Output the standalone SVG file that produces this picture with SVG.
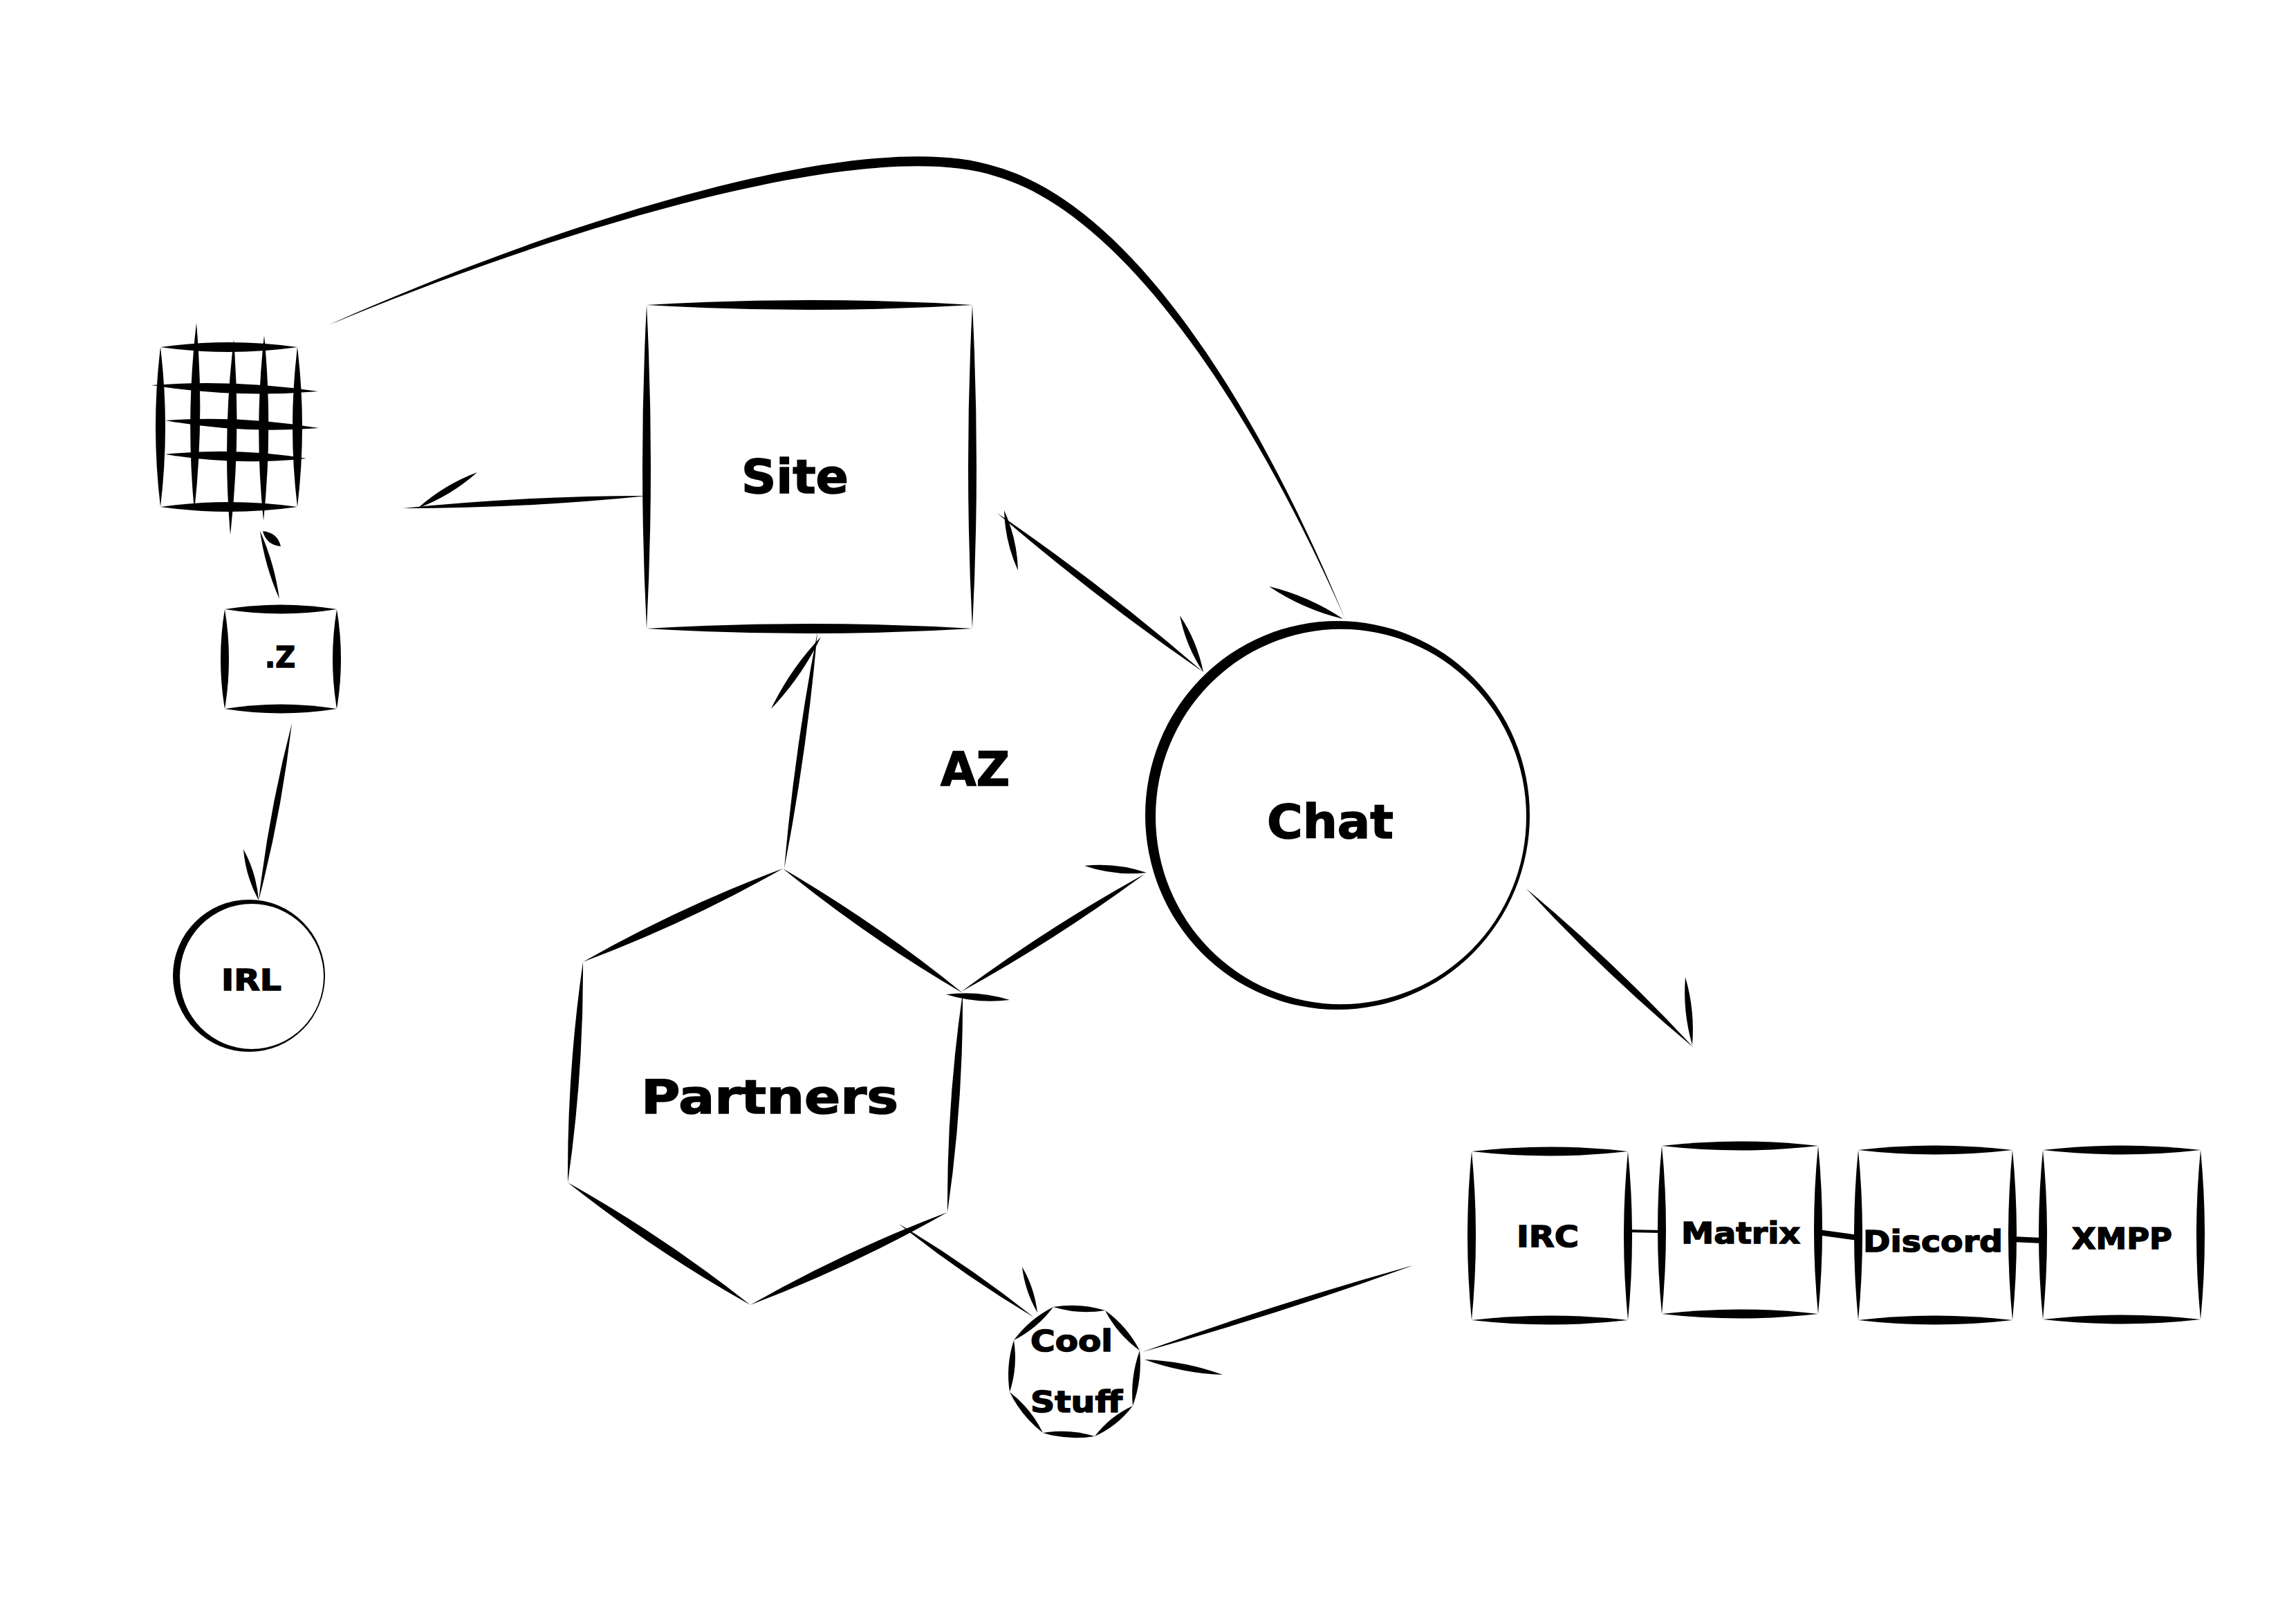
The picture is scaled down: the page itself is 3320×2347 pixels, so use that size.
<svg xmlns="http://www.w3.org/2000/svg" width="3320" height="2347" viewBox="0 0 3320 2347">
<style>
.ink{fill:#000;stroke:none}
.ring{fill:#000;fill-rule:evenodd;stroke:none}
.link{stroke:#000;fill:none}
.lbl{font-family:"DejaVu Sans","Liberation Sans",sans-serif;font-weight:bold;fill:#000;stroke:#000;stroke-width:1.5}
.big{font-size:68px}
.sm{font-size:43px}
</style>
<rect x="0" y="0" width="3320" height="2347" fill="#fff"/>

<g id="connectors">
  <!-- Site -> grid -->
  <path class="ink" d="M936 717 Q759 717 583 735 Q760 735 936 717Z"/>
  <path class="ink" d="M604 735 Q652 717 690 683 Q642 701 604 735Z"/>
  <!-- .Z -> grid -->
  <path class="ink" d="M404 866 Q397 815 376 768 Q383 819 404 866Z"/>
  <path class="ink" d="M380 768 Q385 788 406 790 Q401 770 380 768Z"/>
  <!-- .Z -> IRL -->
  <path class="ink" d="M422 1046 Q389 1173 374 1302 Q407 1176 422 1046Z"/>
  <path class="ink" d="M352 1228 Q355 1267 374 1302 Q371 1263 352 1228Z"/>
  <!-- grid -> Chat (curve) -->
  <path class="ink" d="M475 470 C800 324 1250 179 1440 241 C1625 293 1805 557 1945 895 C1798 563 1615 305 1440 255 C1250 194 800 335 475 470Z"/>
  <path class="ink" d="M1835 848 Q1884 881 1942 895 Q1893 862 1835 848Z"/>
  <!-- Site <-> Chat -->
  <path class="ink" d="M1442 742 Q1585 865 1740 972 Q1598 849 1442 742Z"/>
  <path class="ink" d="M1452 738 Q1453 783 1472 825 Q1471 780 1452 738Z"/>
  <path class="ink" d="M1706 890 Q1715 935 1740 972 Q1731 927 1706 890Z"/>
  <!-- Chat -> chat group -->
  <path class="ink" d="M2207 1285 Q2321 1408 2449 1515 Q2335 1392 2207 1285Z"/>
  <path class="ink" d="M2437 1413 Q2433 1463 2447 1511 Q2451 1461 2437 1413Z"/>
  <!-- Partners -> Site -->
  <path class="ink" d="M1134 1256 Q1167 1086 1182 914 Q1149 1084 1134 1256Z"/>
  <path class="ink" d="M1115 1025 Q1159 979 1187 921 Q1143 967 1115 1025Z"/>
  <!-- Partners <-> Chat -->
  <path class="ink" d="M1390 1434 Q1528 1358 1655 1264 Q1517 1340 1390 1434Z"/>
  <path class="ink" d="M1568 1252 Q1612 1267 1658 1262 Q1614 1247 1568 1252Z"/>
  <path class="ink" d="M1368 1438 Q1413 1452 1460 1446 Q1415 1432 1368 1438Z"/>
  <!-- Partners -> Cool Stuff -->
  <path class="ink" d="M1300 1770 Q1393 1844 1495 1905 Q1402 1831 1300 1770Z"/>
  <path class="ink" d="M1478 1832 Q1482 1867 1500 1898 Q1496 1863 1478 1832Z"/>
  <!-- chat group -> Cool Stuff -->
  <path class="ink" d="M2043 1830 Q1845 1885 1652 1955 Q1850 1900 2043 1830Z"/>
  <path class="ink" d="M1655 1966 Q1710 1986 1768 1988 Q1713 1968 1655 1966Z"/>
  <!-- links inside chat group -->
  <line class="link" x1="2354" y1="1780" x2="2403" y2="1781" stroke-width="4"/>
  <line class="link" x1="2629" y1="1782" x2="2687" y2="1790" stroke-width="8"/>
  <line class="link" x1="2910" y1="1792" x2="2954" y2="1794" stroke-width="8"/>
</g>

<g id="grid">
  <path class="ink" d="M232 502 Q331 516 430 502 Q331 488 232 502Z"/>
  <path class="ink" d="M219 557 Q340 576 460 566 Q340 548 219 557Z"/>
  <path class="ink" d="M239 608 Q350 628 461 619 Q350 600 239 608Z"/>
  <path class="ink" d="M239 657 Q341 674 443 663 Q341 646 239 657Z"/>
  <path class="ink" d="M232 733 Q331 747 430 733 Q331 719 232 733Z"/>
  <path class="ink" d="M232 502 Q218 617 232 733 Q246 617 232 502Z"/>
  <path class="ink" d="M284 467 Q268 603 281 739 Q296 603 284 467Z"/>
  <path class="ink" d="M338 491 Q321 632 333 773 Q349 632 338 491Z"/>
  <path class="ink" d="M382 485 Q367 619 381 753 Q395 619 382 485Z"/>
  <path class="ink" d="M430 502 Q416 617 430 733 Q444 617 430 502Z"/>
</g>

<g id="dotz">
  <path class="ink" d="M325 881 Q406 894 487 881 Q406 868 325 881Z"/>
  <path class="ink" d="M325 1025 Q406 1038 487 1025 Q406 1012 325 1025Z"/>
  <path class="ink" d="M325 881 Q313 953 325 1025 Q337 953 325 881Z"/>
  <path class="ink" d="M487 881 Q475 953 487 1025 Q499 953 487 881Z"/>
  <text class="lbl sm" x="383" y="965" textLength="44" lengthAdjust="spacingAndGlyphs">.Z</text>
</g>

<g id="irl">
  <path class="ring" d="M250 1411 a110 110 0 1 0 220 0 a110 110 0 1 0 -220 0Z M260 1412 a104 105 0 1 0 208 0 a104 105 0 1 0 -208 0Z"/>
  <text class="lbl sm" x="320" y="1432" textLength="87" lengthAdjust="spacingAndGlyphs">IRL</text>
</g>

<g id="site">
  <path class="ink" d="M935 441 Q1170 455 1406 441 Q1170 427 935 441Z"/>
  <path class="ink" d="M935 909 Q1170 923 1406 909 Q1170 895 935 909Z"/>
  <path class="ink" d="M935 441 Q923 675 935 909 Q947 675 935 441Z"/>
  <path class="ink" d="M1406 441 Q1394 675 1406 909 Q1418 675 1406 441Z"/>
  <text class="lbl big" x="1072" y="713" textLength="155" lengthAdjust="spacingAndGlyphs">Site</text>
</g>

<g id="chat">
  <path class="ring" d="M1656 1179 a278 281 0 1 0 556 0 a278 281 0 1 0 -556 0Z M1671 1181 a268 271 0 1 0 536 0 a268 271 0 1 0 -536 0Z"/>
  <text class="lbl big" x="1832" y="1212" textLength="183" lengthAdjust="spacingAndGlyphs">Chat</text>
</g>

<g id="az">
  <text class="lbl big" x="1360" y="1136" textLength="100" lengthAdjust="spacingAndGlyphs">AZ</text>
</g>

<g id="partners">
  <path class="ink" d="M1132 1256 Q1255 1356 1392 1436 Q1269 1336 1132 1256Z"/>
  <path class="ink" d="M1392 1436 Q1369 1594 1370 1753 Q1393 1595 1392 1436Z"/>
  <path class="ink" d="M1370 1753 Q1222 1809 1085 1887 Q1233 1831 1370 1753Z"/>
  <path class="ink" d="M1085 1887 Q960 1788 821 1710 Q946 1809 1085 1887Z"/>
  <path class="ink" d="M821 1710 Q844 1551 843 1391 Q820 1550 821 1710Z"/>
  <path class="ink" d="M843 1391 Q993 1335 1132 1256 Q982 1312 843 1391Z"/>
  <text class="lbl big" x="927" y="1610" textLength="372" lengthAdjust="spacingAndGlyphs">Partners</text>
</g>

<g id="coolstuff">
  <path class="ink" d="M1523 1890 Q1560 1901.5 1598 1895 Q1561 1883.5 1523 1890Z"/>
  <path class="ink" d="M1598 1895 Q1616 1930 1648 1953 Q1630 1918 1598 1895Z"/>
  <path class="ink" d="M1648 1953 Q1634 1992 1638 2033 Q1652 1994 1648 1953Z"/>
  <path class="ink" d="M1638 2033 Q1605 2048 1583 2077 Q1616 2062 1638 2033Z"/>
  <path class="ink" d="M1583 2077 Q1546 2065.5 1508 2072 Q1545 2083.5 1583 2077Z"/>
  <path class="ink" d="M1508 2072 Q1491 2037 1460 2013 Q1477 2048 1508 2072Z"/>
  <path class="ink" d="M1460 2013 Q1472 1976 1466 1938 Q1454 1975 1460 2013Z"/>
  <path class="ink" d="M1466 1938 Q1500 1921 1523 1890 Q1489 1907 1466 1938Z"/>
  <text class="lbl sm" x="1490" y="1954" textLength="119" lengthAdjust="spacingAndGlyphs">Cool</text>
  <text class="lbl sm" x="1490" y="2042" textLength="133" lengthAdjust="spacingAndGlyphs">Stuff</text>
</g>

<g id="irc">
  <path class="ink" d="M2128 1665 Q2241 1678 2354 1665 Q2241 1652 2128 1665Z"/>
  <path class="ink" d="M2128 1909 Q2241 1922 2354 1909 Q2241 1896 2128 1909Z"/>
  <path class="ink" d="M2128 1665 Q2116 1787 2128 1909 Q2140 1787 2128 1665Z"/>
  <path class="ink" d="M2354 1665 Q2342 1787 2354 1909 Q2366 1787 2354 1665Z"/>
  <text class="lbl sm" x="2193" y="1803" textLength="90" lengthAdjust="spacingAndGlyphs">IRC</text>
</g>

<g id="matrix">
  <path class="ink" d="M2403 1657 Q2516 1670 2629 1657 Q2516 1644 2403 1657Z"/>
  <path class="ink" d="M2403 1900 Q2516 1913 2629 1900 Q2516 1887 2403 1900Z"/>
  <path class="ink" d="M2403 1657 Q2391 1778 2403 1900 Q2415 1778 2403 1657Z"/>
  <path class="ink" d="M2629 1657 Q2617 1778 2629 1900 Q2641 1778 2629 1657Z"/>
  <text class="lbl sm" x="2431" y="1798" textLength="172" lengthAdjust="spacingAndGlyphs">Matrix</text>
</g>

<g id="discord">
  <path class="ink" d="M2687 1663 Q2798 1676 2910 1663 Q2798 1650 2687 1663Z"/>
  <path class="ink" d="M2687 1909 Q2798 1922 2910 1909 Q2798 1896 2687 1909Z"/>
  <path class="ink" d="M2687 1663 Q2675 1786 2687 1909 Q2699 1786 2687 1663Z"/>
  <path class="ink" d="M2910 1663 Q2898 1786 2910 1909 Q2922 1786 2910 1663Z"/>
  <text class="lbl sm" x="2694" y="1810" textLength="202" lengthAdjust="spacingAndGlyphs">Discord</text>
</g>

<g id="xmpp">
  <path class="ink" d="M2954 1663 Q3068 1676 3182 1663 Q3068 1650 2954 1663Z"/>
  <path class="ink" d="M2954 1908 Q3068 1921 3182 1908 Q3068 1895 2954 1908Z"/>
  <path class="ink" d="M2954 1663 Q2942 1785 2954 1908 Q2966 1785 2954 1663Z"/>
  <path class="ink" d="M3182 1663 Q3170 1785 3182 1908 Q3194 1785 3182 1663Z"/>
  <text class="lbl sm" x="2996" y="1806" textLength="145" lengthAdjust="spacingAndGlyphs">XMPP</text>
</g>
</svg>
